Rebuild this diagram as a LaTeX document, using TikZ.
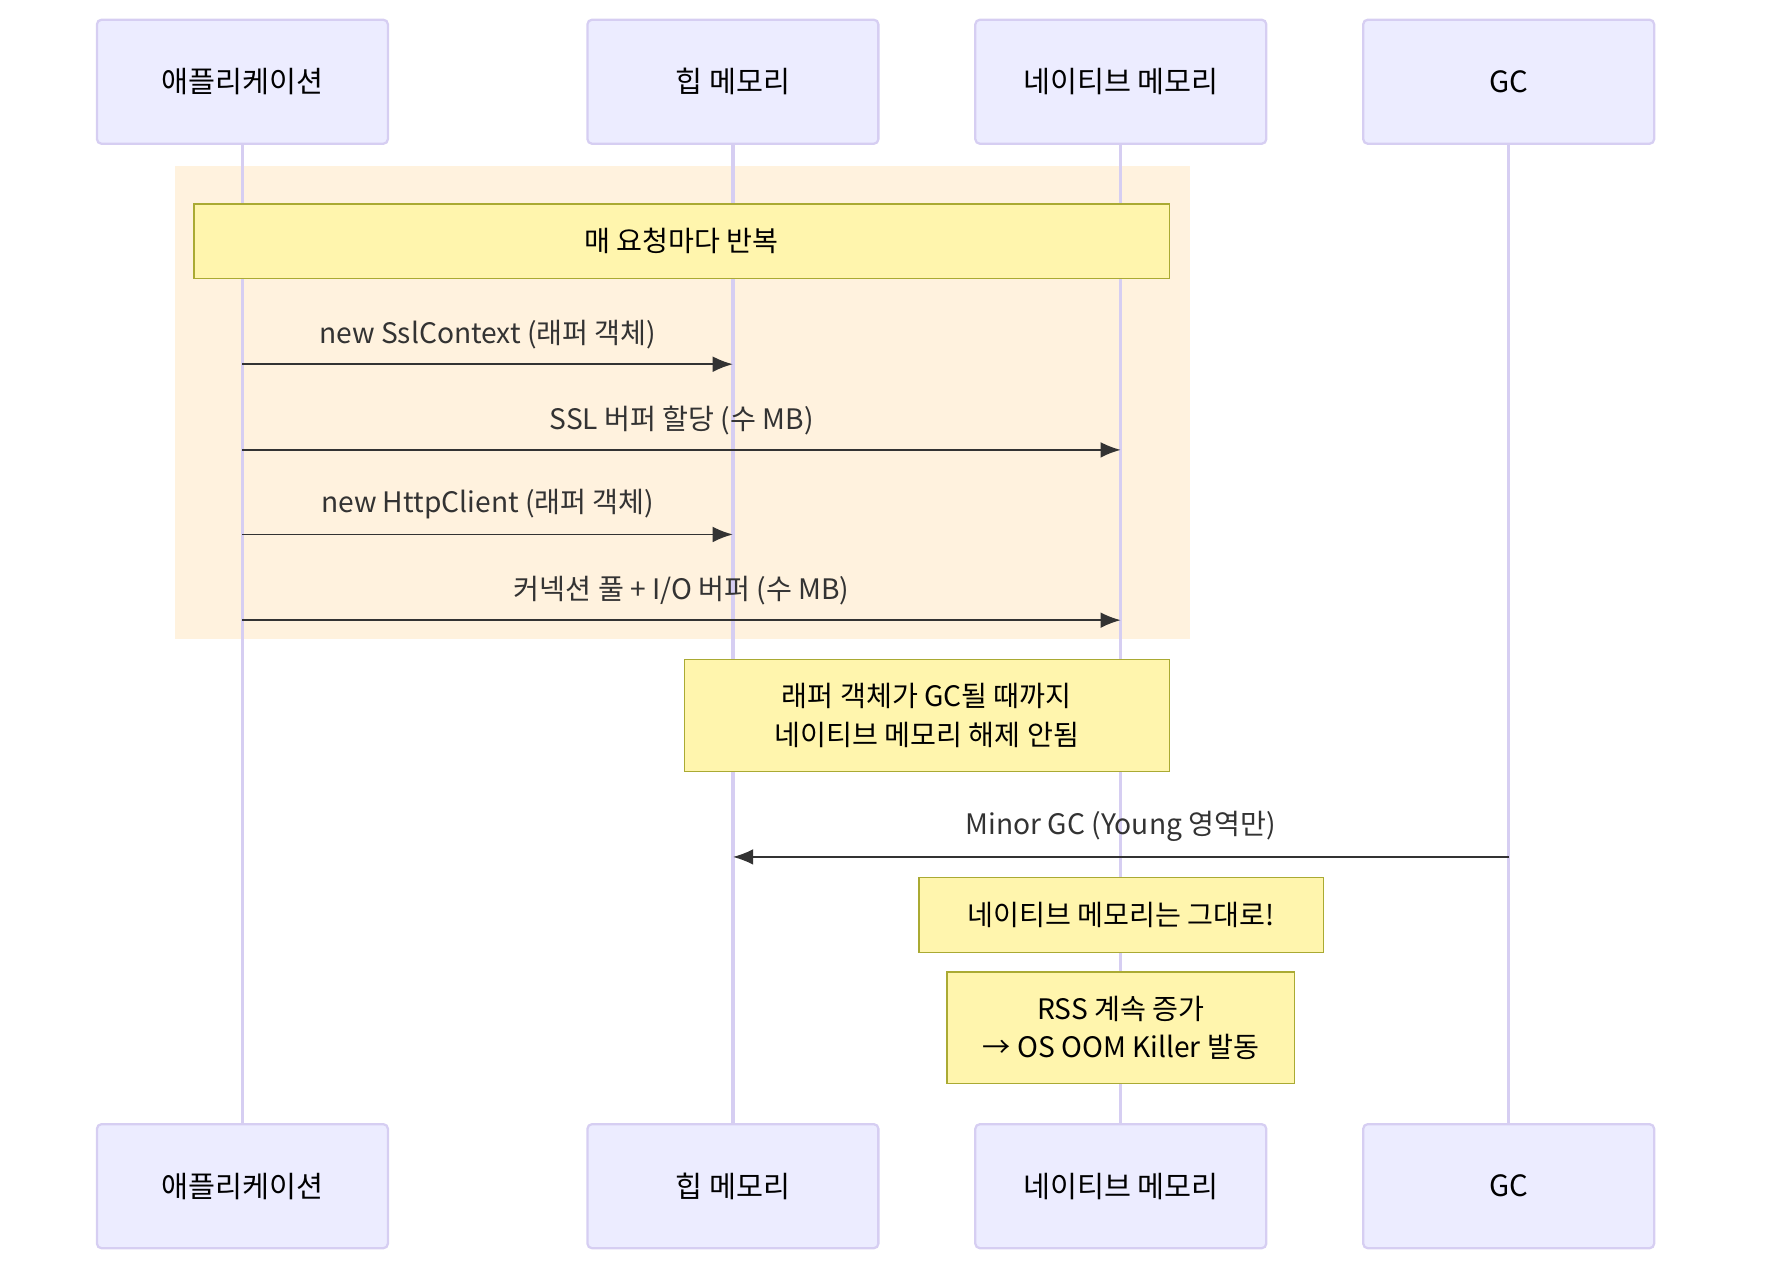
\documentclass[tikz,border=0pt]{standalone}
\usepackage{fontspec}
\setmainfont{Noto Sans CJK KR}
\usetikzlibrary{arrows.meta}
\definecolor{actfill}{HTML}{ECECFF}
\definecolor{actline}{HTML}{D6CEF2}
\definecolor{loopfill}{HTML}{FFF2DE}
\definecolor{notefill}{HTML}{FFF5AD}
\definecolor{noteline}{HTML}{AAAA33}
\definecolor{msgline}{HTML}{333333}
\tikzset{
  actor/.style={draw=actline, line width=1pt, fill=actfill, rounded corners=2pt,
    minimum width=129pt, minimum height=55pt, font=\fontsize{13}{15}\selectfont},
  note/.style={draw=noteline, line width=0.6pt, fill=notefill, align=center,
    font=\fontsize{12.5}{17}\selectfont},
  msg/.style={draw=msgline, line width=0.8pt, -{Latex[length=9pt,width=7pt]}},
  lbl/.style={font=\fontsize{12.5}{15}\selectfont, text=msgline}
}
\begin{document}
\begin{tikzpicture}[x=0.5pt,y=-0.5pt]
  \useasboundingbox (0,0) rectangle (1568,1139);

  % lifelines
  \foreach \x in {215,650,994,1338}
  {
    \draw[actline, line width=1.5pt] (\x,128) -- (\x,997);
  }

  % loop region
  \fill[loopfill] (155,147) rectangle (1055,567);
  \foreach \x in {215,650,994}
  {
    \draw[actline, line width=1.5pt] (\x,147) -- (\x,567);
  }

  % actors
  \node[actor] (appT) at (215,72.5) {애플리케이션};
  \node[actor] (heapT) at (650,72.5) {힙 메모리};
  \node[actor] (natT) at (994,72.5) {네이티브 메모리};
  \node[actor] (gcT) at (1338,72.5) {GC};
  \node[actor] (appB) at (215,1052) {애플리케이션};
  \node[actor] (heapB) at (650,1052) {힙 메모리};
  \node[actor] (natB) at (994,1052) {네이티브 메모리};
  \node[actor] (gcB) at (1338,1052) {GC};

  % notes
  \node[note, minimum width=432.5pt, minimum height=33pt] (loopN) at (604.5,214) {매 요청마다 반복};
  \node[note, minimum width=215pt, minimum height=49.5pt] (wrapN) at (822,634.5) {래퍼 객체가 GC될 때까지\\네이티브 메모리 해제 안됨};
  \node[note, minimum width=179.5pt, minimum height=33.5pt] (keepN) at (994.5,811.5) {네이티브 메모리는 그대로!};
  \node[note, minimum width=154pt, minimum height=49.5pt] (rssN) at (994,911.5) {RSS 계속 증가\\→ OS OOM Killer 발동};

  % messages
  \coordinate (a1) at (215,323); \coordinate (h1) at (650,323);
  \coordinate (a2) at (215,399); \coordinate (n2) at (994,399);
  \coordinate (a3) at (215,474); \coordinate (h3) at (650,474);
  \coordinate (a4) at (215,550); \coordinate (n4) at (994,550);
  \coordinate (g5) at (1338,760); \coordinate (h5) at (650,760);
  \draw[msg] (a1) -- (h1) node[lbl, midway, above=3pt] {new SslContext (래퍼 객체)};
  \draw[msg] (a2) -- (n2) node[lbl, midway, above=3pt] {SSL 버퍼 할당 (수 MB)};
  \draw[msg] (a3) -- (h3) node[lbl, midway, above=3pt] {new HttpClient (래퍼 객체)};
  \draw[msg] (a4) -- (n4) node[lbl, midway, above=3pt] {커넥션 풀 + I/O 버퍼 (수 MB)};
  \draw[msg] (g5) -- (h5) node[lbl, midway, above=3pt] {Minor GC (Young 영역만)};
\end{tikzpicture}
\end{document}
